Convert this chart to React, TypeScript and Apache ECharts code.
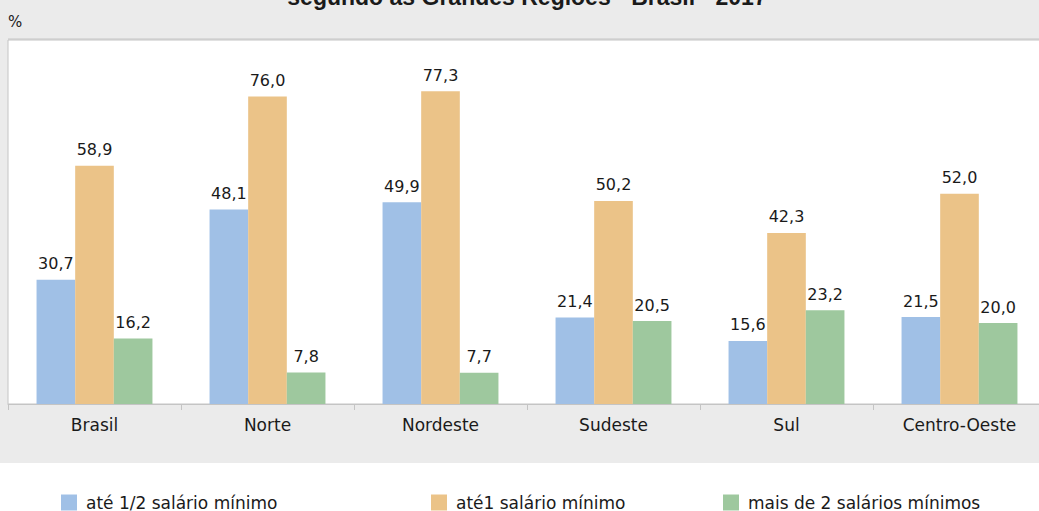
import React, { useEffect, useRef } from "react";
import * as echarts from "echarts";

const categories = ["Brasil", "Norte", "Nordeste", "Sudeste", "Sul", "Centro-Oeste"];
const seriesNames = ["até 1/2 salário mínimo", "até1 salário mínimo", "mais de 2 salários mínimos"];
const meioSalario = [30.7, 48.1, 49.9, 21.4, 15.6, 21.5];
const umSalario = [58.9, 76.0, 77.3, 50.2, 42.3, 52.0];
const maisDois = [16.2, 7.8, 7.7, 20.5, 23.2, 20.0];
const colors = ["#a0c0e6", "#ebc388", "#9ec89e"];
const titleText = "segundo as Grandes Regiões - Brasil - 2017";

const FONT = "DejaVu Sans";

export default function App() {
  const ref = useRef<HTMLDivElement>(null);
  useEffect(() => {
    if (!ref.current) return;
    const chart = echarts.init(ref.current, undefined, { renderer: "svg" });
    const values = [meioSalario, umSalario, maisDois];
    const legendLefts = [61, 431, 723];
    chart.setOption({
      animation: false,
      backgroundColor: "#ebebeb",
      textStyle: { fontFamily: FONT },
      grid: {
        left: 8,
        right: 14,
        top: 40,
        bottom: 107,
        show: true,
        backgroundColor: "#ffffff",
        borderColor: "#c4c4c4",
        borderWidth: 1,
      },
      xAxis: {
        type: "category",
        data: categories,
        axisLine: { lineStyle: { color: "#c4c4c4", width: 1 } },
        axisTick: { show: true, length: 6, lineStyle: { color: "#c4c4c4" } },
        axisLabel: { color: "#1a1a1a", fontSize: 17, margin: 12, fontFamily: FONT },
      },
      yAxis: {
        type: "value",
        min: 0,
        max: 90,
        show: false,
        splitLine: { show: false },
      },
      legend: legendLefts.map((l, i) => ({
        data: [seriesNames[i]],
        left: l,
        top: 494,
        padding: 0,
        itemWidth: 16,
        itemHeight: 16,
        icon: "rect",
        textStyle: { fontSize: 17, color: "#1a1a1a", fontFamily: FONT, padding: [0, 0, 0, 4] },
      })),
      graphic: [
        { type: "rect", shape: { x: 0, y: 463, width: 1060, height: 48 }, style: { fill: "#ffffff" }, z: -1 },
        {
          type: "line",
          shape: { x1: 8, y1: 39, x2: 1046, y2: 39 },
          style: { stroke: "#c4c4c4", lineWidth: 1 },
          z: 10,
        },
        {
          type: "text",
          x: 527,
          y: 8,
          style: {
            text: titleText,
            fontFamily: "Liberation Sans",
            fontWeight: "bold",
            fontSize: 23,
            fill: "#1a1a1a",
            align: "center",
            verticalAlign: "bottom",
          },
        },
        {
          type: "text",
          x: 8,
          y: 22,
          style: { text: "%", fontFamily: FONT, fontSize: 15, fill: "#1a1a1a", verticalAlign: "middle" },
        },
      ],
      series: values.map((v, i) => ({
        name: seriesNames[i],
        type: "bar",
        data: v,
        barGap: "0%",
        barCategoryGap: "33%",
        itemStyle: { color: colors[i] },
        label: {
          show: true,
          position: "top",
          distance: 8,
          fontSize: 16,
          color: "#1a1a1a",
          fontFamily: FONT,
          formatter: (p: any) => Number(p.value).toFixed(1).replace(".", ","),
        },
      })),
    });
    return () => chart.dispose();
  }, []);
  return (
    <div style={{ position: "absolute", left: 0, top: 0, width: 1039, height: 511, overflow: "hidden" }}>
      <div ref={ref} style={{ width: 1060, height: 511 }} />
    </div>
  );
}
